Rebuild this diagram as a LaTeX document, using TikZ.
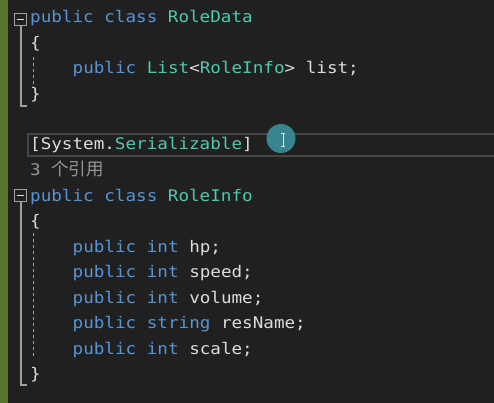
\documentclass[tikz,border=0pt]{standalone}
\usepackage{fontspec}
\usepackage{xcolor}
\newfontfamily\codefont[FakeStretch=1.1]{DejaVu Sans Mono}
\newfontfamily\cjkfont{Noto Sans CJK SC}
\definecolor{editorbg}{RGB}{32,32,32}
\definecolor{barGreen}{RGB}{90,118,44}
\definecolor{plain}{RGB}{220,220,220}
\definecolor{kwblue}{RGB}{86,150,214}
\definecolor{tyteal}{RGB}{78,201,176}
\definecolor{lensgrey}{RGB}{150,150,150}
\definecolor{guidegrey}{RGB}{160,160,160}
\definecolor{curline}{RGB}{70,70,70}
\definecolor{cursorteal}{RGB}{58,142,156}
\newcommand{\kw}[1]{\textcolor{kwblue}{#1}}
\newcommand{\ty}[1]{\textcolor{tyteal}{#1}}
\newcommand{\refs}[1]{#1 {\cjkfont\fontsize{17.5}{18}\selectfont 个引用}}
\usetikzlibrary{positioning}
\tikzset{%
	code/.style={anchor=base west, inner sep=0pt, text=plain,%
		font={\codefont\fontsize{16}{18}\selectfont}},
	lens/.style={code, text=lensgrey},
	foldbox/.style={draw=guidegrey, line width=1pt, fill=editorbg},
	foldline/.style={draw=guidegrey, line width=1.2pt},
	indent/.style={draw=guidegrey, line width=1pt, dash pattern=on 3pt off 3pt}
}
\begin{document}
\begin{tikzpicture}[x=1pt, y=-1pt]
	\useasboundingbox (0,0) rectangle (494,403);
	\clip (0,0) rectangle (494,403);

	%editor background
	\fill[editorbg] (0,0) rectangle (494,403);
	\fill[barGreen] (0,0) rectangle (8,403);

	%current line
	\draw[curline, line width=2pt] (28,134) rectangle (500,156);

	%first class
	\node[lens] (lens0) at (30,-2) {\refs{1}};
	\node[code] (cls1) at (30,23) {\kw{public} \kw{class} \ty{RoleData}};
	\node[code] (open1) at (30,48.5) {\{};
	\node[code] (list) at (72.5,74) {\kw{public} \ty{List}<\ty{RoleInfo}> list;};
	\node[code] (close1) at (30,99.5) {\}};

	%attribute
	\node[code] (attr) at (30,150) {[System.\ty{Serializable}]};
	\node[lens] (lens1) at (30,175.5) {\refs{3}};

	%second class
	\node[code] (cls2) at (30,201) {\kw{public} \kw{class} \ty{RoleInfo}};
	\node[code] (open2) at (30,226.5) {\{};
	\node[code] (hp) at (72.5,252) {\kw{public} \kw{int} hp;};
	\node[code] (speed) at (72.5,277.5) {\kw{public} \kw{int} speed;};
	\node[code] (volume) at (72.5,303) {\kw{public} \kw{int} volume;};
	\node[code] (resName) at (72.5,328.5) {\kw{public} \kw{string} resName;};
	\node[code] (scale) at (72.5,354) {\kw{public} \kw{int} scale;};
	\node[code] (close2) at (30,379.5) {\}};

	%outlining
	\draw[foldline] (21,26) -- (21,106) -- (27,106);
	\draw[foldbox] (14,13.5) rectangle (26,25.5);
	\draw[plain, line width=1.2pt] (16.5,19.5) -- (23.5,19.5);
	\draw[indent] (33,57) -- (33,84);

	\draw[foldline] (21,202) -- (21,385) -- (27,385);
	\draw[foldbox] (14,189.5) rectangle (26,201.5);
	\draw[plain, line width=1.2pt] (16.5,195.5) -- (23.5,195.5);
	\draw[indent] (33,233) -- (33,358);

	%cursor
	\fill[cursorteal, opacity=0.9] (281,138.5) circle (14.5);
	\draw[plain!80, line width=0.8pt] (283,133) -- (283,146)
		(281,133) -- (285,133) (281,146) -- (285,146);
\end{tikzpicture}
\end{document}
